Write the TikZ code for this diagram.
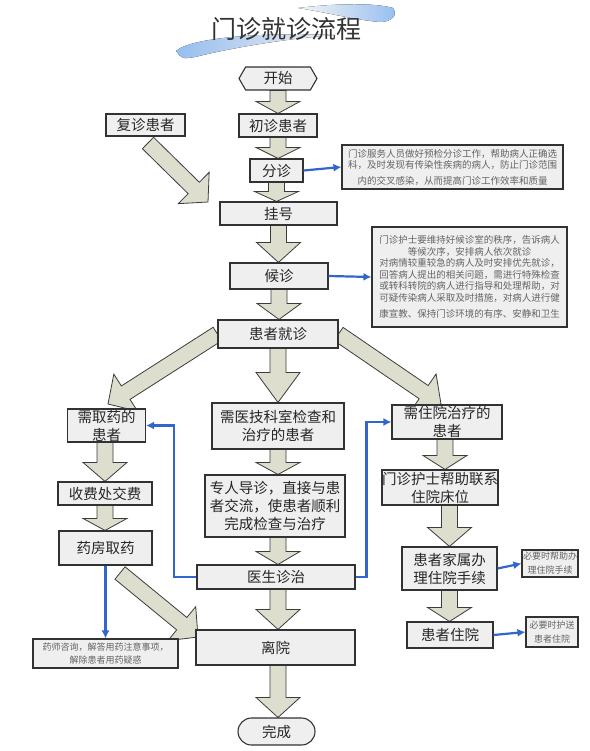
\documentclass[tikz,border=0pt]{standalone}
\usepackage{fontspec}
\newfontfamily\cjk{Noto Sans CJK SC}
\usetikzlibrary{calc,arrows.meta,shapes.misc,shapes.symbols,backgrounds}
\definecolor{arrowfill}{RGB}{222,222,206}
\definecolor{arrowline}{RGB}{60,60,60}
\definecolor{boxfill}{RGB}{239,239,239}
\definecolor{boxline}{RGB}{50,50,50}
\definecolor{bluel}{RGB}{51,102,204}
\definecolor{notetext}{RGB}{100,100,100}
\definecolor{swblue}{RGB}{150,190,240}
\tikzset{
 box/.style={draw=boxline, fill=boxfill, line width=1.1pt, font=\cjk\fontsize{14.5}{18}\selectfont, text=black!85, align=center, inner sep=0pt},
 note/.style={draw=boxline, fill=boxfill, line width=1.1pt, font=\cjk\fontsize{9.5}{11.5}\selectfont, text=notetext, align=center, inner sep=0pt},
 smallnote/.style={note, font=\cjk\fontsize{9}{14}\selectfont},
 sz/.style 2 args={minimum width=#1, minimum height=#2},
 blockarrow/.style={draw=arrowline, fill=arrowfill, line width=0.8pt, line join=miter},
 link/.style={draw=bluel, line width=2.2pt, -{Latex[length=8pt,width=8pt]}},
}
\newcommand\blkarrow[3][20pt]{%
  \coordinate (ba-s) at #2;
  \coordinate (ba-e) at #3;
  \coordinate (ba-h) at ($(ba-e)!#1!(ba-s)$);
  \filldraw[blockarrow] ($(ba-s)!8pt!90:(ba-e)$) -- ($(ba-h)!8pt!-90:(ba-s)$) -- ($(ba-h)!22pt!-90:(ba-s)$) -- (ba-e) -- ($(ba-h)!22pt!90:(ba-s)$) -- ($(ba-h)!8pt!90:(ba-s)$) -- ($(ba-s)!8pt!-90:(ba-e)$) -- cycle;
}
\begin{document}
\begin{tikzpicture}[x=1pt,y=-1pt]
\useasboundingbox (0,0) rectangle (589,751);
% title swooshes
\fill[left color=swblue, right color=gray!12] (176,51) .. controls (190,38) and (260,32) .. (335,35) .. controls (270,40) and (215,52) .. (195,57) .. controls (182,59) .. (176,51) -- cycle;
\fill[left color=gray!8, right color=swblue] (298,8) .. controls (340,3) and (375,3) .. (393,8) .. controls (398,15) and (392,22) .. (380,22) .. controls (355,20) and (330,13) .. (298,8) -- cycle;
\node[font=\cjk\fontsize{25}{25}\selectfont, text=black!80] (title) at (286,29) {门诊就诊流程};

% nodes
\node[box, sz={78pt}{23pt}, signal, signal to=east and west, signal pointer angle=120] (kaishi) at (278,78.5) {开始};
\node[box, sz={78pt}{23pt}] (chuzhen) at (278,125.5) {初诊患者};
\node[box, sz={79pt}{22pt}] (fuzhen) at (145.5,125) {复诊患者};
\node[box, sz={53pt}{23pt}] (fenzhen) at (276.5,170.5) {分诊};
\node[box, sz={117pt}{23pt}] (guahao) at (278.5,213.5) {挂号};
\node[box, sz={98pt}{26pt}] (houzhen) at (279,276) {候诊};
\node[box, sz={120pt}{28pt}] (jiuzhen) at (278,334) {患者就诊};
\node[box, sz={78pt}{33pt}] (quyao) at (106.5,425.5) {需取药的\\患者};
\node[box, sz={132pt}{46pt}] (yiji) at (278,426) {需医技科室检查和\\治疗的患者};
\node[box, sz={110pt}{34pt}] (zhuyuan) at (447,422) {需住院治疗的\\患者};
\node[box, sz={140pt}{62pt}] (daozhen) at (275,506) {专人导诊，直接与患\\者交流，使患者顺利\\完成检查与治疗};
\node[box, sz={158pt}{24pt}] (yisheng) at (276,577) {医生诊治};
\node[box, sz={114pt}{35pt}] (hushi) at (440,487.5) {门诊护士帮助联系\\住院床位};
\node[box, sz={95pt}{43pt}] (jiashu) at (449.5,568.5) {患者家属办\\理住院手续};
\node[box, sz={86pt}{26pt}] (ruyuan) at (450,635) {患者住院};
\node[box, sz={94pt}{23pt}] (shoufei) at (105,493.5) {收费处交费};
\node[box, sz={93pt}{34pt}] (yaofang) at (105.5,548) {药房取药};
\node[box, sz={159pt}{35pt}] (liyuan) at (275.5,647.5) {离院};
\node[box, rounded rectangle, sz={77pt}{27pt}] (wancheng) at (276.5,731.5) {完成};

% notes
\node[note, sz={221pt}{44pt}] (note1) at (452.5,167) {门诊服务人员做好预检分诊工作，帮助病人正确选\\科，及时发现有传染性疾病的病人，防止门诊范围\\[4pt]内的交叉感染，从而提高门诊工作效率和质量};
\node[note, sz={195pt}{100pt}] (note2) at (469.5,277) {门诊护士要维持好候诊室的秩序，告诉病人\\等候次序，安排病人依次就诊\\对病情较重较急的病人及时安排优先就诊，\\回答病人提出的相关问题，需进行特殊检查\\或转科转院的病人进行指导和处理帮助，对\\可疑传染病人采取及时措施，对病人进行健\\[5pt]康宣教、保持门诊环境的有序、安静和卫生};
\node[note, font=\cjk\fontsize{9}{13}\selectfont, sz={145pt}{29pt}] (note3) at (105.5,653.5) {药师咨询，解答用药注意事项，\\解除患者用药疑惑};
\node[smallnote, sz={56pt}{27pt}] (note4) at (550,563.5) {必要时帮助办\\理住院手续};
\node[smallnote, sz={52pt}{30pt}] (note5) at (552,632) {必要时护送\\患者住院};

\coordinate (ftail) at (148,143);
\coordinate (ftip) at (208,202);
\coordinate (qtip) at (108,404);
\coordinate (ztip) at (441,404);
\coordinate (ytail) at (120,573);
\coordinate (ltip) at (198,637);

% block arrows
\begin{pgfonlayer}{background}
\fill[white] (0,0) rectangle (589,751);
\blkarrow[12pt]{(kaishi.south)}{(chuzhen.north)}
\blkarrow[11pt]{(chuzhen.south)}{(chuzhen.south |- fenzhen.north)}
\blkarrow[10pt]{(fenzhen.south)}{(fenzhen.south |- guahao.north)}
\blkarrow[20pt]{(guahao.south)}{(guahao.south |- houzhen.north)}
\blkarrow[16pt]{(houzhen.south)}{(houzhen.south |- jiuzhen.north)}
\blkarrow[30pt]{(jiuzhen.south)}{(jiuzhen.south |- yiji.north)}
\blkarrow[12pt]{(yiji.south)}{(yiji.south |- daozhen.north)}
\blkarrow[13pt]{(yiji.south |- daozhen.south)}{(yiji.south |- yisheng.north)}
\blkarrow[20pt]{(yiji.south |- yisheng.south)}{(yiji.south |- liyuan.north)}
\blkarrow[20pt]{(yiji.south |- liyuan.south)}{(yiji.south |- wancheng.north)}
\blkarrow[14pt]{($(zhuyuan.south)+(-2,0)$)}{($(zhuyuan.south |- hushi.north)+(-2,0)$)}
\blkarrow[19pt]{(jiashu.north |- hushi.south)}{(jiashu.north)}
\blkarrow[14pt]{(jiashu.south)}{(jiashu.south |- ruyuan.north)}
\blkarrow[19pt]{(shoufei.north |- quyao.south)}{(shoufei.north)}
\blkarrow[12pt]{(shoufei.south)}{(shoufei.south |- yaofang.north)}
\blkarrow[20pt]{(ftail)}{(ftip)}
\blkarrow[21pt]{(jiuzhen.west)}{(qtip)}
\blkarrow[21pt]{(jiuzhen.east)}{(ztip)}
\blkarrow[21pt]{(ytail)}{(ltip)}
\end{pgfonlayer}

% blue links
\draw[link] (fenzhen.east) -- (note1.west);
\draw[link] (houzhen.east) -- (note2.west);
\draw[link] (yisheng.west) -| ($(quyao.east)+(28,0)$) -- (quyao.east);
\draw[link] (yisheng.east) -| ($(zhuyuan.west)+(-25,0)$) -- (zhuyuan.west);
\draw[link] (jiashu.east) -- (note4.west);
\draw[link] (ruyuan.east) -- (note5.west);
\draw[link] (yaofang.south) -- (note3.north);
\end{tikzpicture}
\end{document}
